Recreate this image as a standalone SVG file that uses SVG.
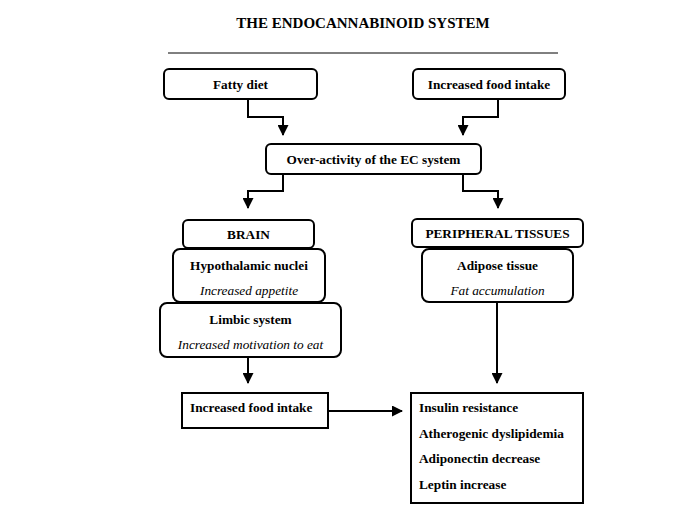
<svg xmlns="http://www.w3.org/2000/svg" width="685" height="513" viewBox="0 0 685 513">
<defs>
<marker id="arr" markerWidth="11" markerHeight="11" refX="10" refY="5.5" orient="auto" markerUnits="userSpaceOnUse">
<path d="M0,0 L11,5.5 L0,11 Z" fill="#000"/>
</marker>
<style>
.box{fill:#fff;stroke:#000;stroke-width:2}
.t{font-family:"Liberation Serif","Times New Roman",serif;font-size:13.3px;font-weight:bold;fill:#000}
.i{font-family:"Liberation Serif","Times New Roman",serif;font-size:13.3px;font-style:italic;fill:#000}
.c{text-anchor:middle}
.ln{fill:none;stroke:#000;stroke-width:2}
</style>
</defs>
<rect width="685" height="513" fill="#fff"/>
<text x="363" y="28" class="t c" style="font-size:15px">THE ENDOCANNABINOID SYSTEM</text>
<line x1="168" y1="53" x2="558" y2="53" stroke="#000" stroke-width="1"/>
<g id="connectors">
<path class="ln" d="M248,99 V117 H283 V135" marker-end="url(#arr)"/>
<path class="ln" d="M498,99 V117 H463 V135" marker-end="url(#arr)"/>
<path class="ln" d="M283,174 V191 H248 V208" marker-end="url(#arr)"/>
<path class="ln" d="M463,174 V191 H498 V208" marker-end="url(#arr)"/>
<path class="ln" d="M248,357 V383" marker-end="url(#arr)"/>
<path class="ln" d="M497,302 V383" marker-end="url(#arr)"/>
<path class="ln" d="M328,411 H402" marker-end="url(#arr)"/>
</g>
<g id="fatty-diet">
<rect class="box" x="164" y="69" width="153" height="30" rx="5"/>
<text x="240.5" y="88.5" class="t c">Fatty diet</text>
</g>
<g id="food-intake-top">
<rect class="box" x="413" y="69" width="152" height="30" rx="5"/>
<text x="489" y="88.5" class="t c">Increased food intake</text>
</g>
<g id="overactivity">
<rect class="box" x="266" y="144" width="215" height="30" rx="5"/>
<text x="373.5" y="163.5" class="t c">Over-activity of the EC system</text>
</g>
<g id="brain">
<rect class="box" x="183" y="220" width="131" height="28" rx="5"/>
<text x="248.5" y="238.5" class="t c">BRAIN</text>
</g>
<g id="hypothalamic">
<rect class="box" x="173" y="249" width="152" height="53" rx="7"/>
<text x="249" y="270" class="t c">Hypothalamic nuclei</text>
<text x="249" y="295" class="i c">Increased appetite</text>
</g>
<g id="limbic">
<rect class="box" x="160" y="303" width="181" height="54" rx="7"/>
<text x="250.5" y="324" class="t c">Limbic system</text>
<text x="250.5" y="349" class="i c">Increased motivation to eat</text>
</g>
<g id="peripheral">
<rect class="box" x="412" y="219" width="171" height="28" rx="5"/>
<text x="497.5" y="237.5" class="t c">PERIPHERAL TISSUES</text>
</g>
<g id="adipose">
<rect class="box" x="422" y="249" width="151" height="53" rx="7"/>
<text x="497.5" y="270" class="t c">Adipose tissue</text>
<text x="497.5" y="295" class="i c">Fat accumulation</text>
</g>
<g id="food-intake-bottom">
<rect class="box" x="182" y="393" width="146" height="35"/>
<text x="190" y="412" class="t">Increased food intake</text>
</g>
<g id="outcomes">
<rect class="box" x="411" y="393" width="172" height="110"/>
<text x="419" y="412" class="t">Insulin resistance</text>
<text x="419" y="437.5" class="t">Atherogenic dyslipidemia</text>
<text x="419" y="463" class="t">Adiponectin decrease</text>
<text x="419" y="488.5" class="t">Leptin increase</text>
</g>
</svg>
